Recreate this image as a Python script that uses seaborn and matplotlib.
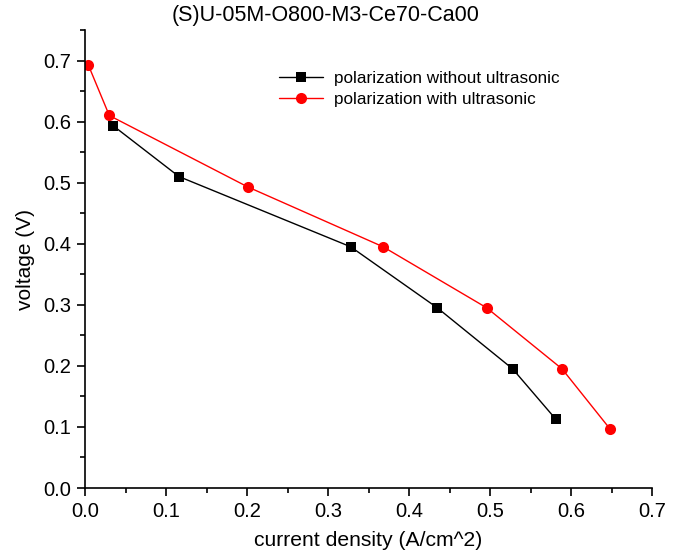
import matplotlib
matplotlib.use("Agg")
import matplotlib.pyplot as plt
import seaborn as sns
from matplotlib.ticker import MultipleLocator

# polarization data
cur_without = [0.035, 0.116, 0.328, 0.435, 0.528, 0.581]
volt_without = [0.593, 0.510, 0.395, 0.295, 0.195, 0.113]
cur_with = [0.004, 0.030, 0.201, 0.368, 0.496, 0.589, 0.648]
volt_with = [0.693, 0.610, 0.493, 0.395, 0.295, 0.195, 0.097]

sns.set_style("ticks")
plt.rcParams["font.family"] = ["Liberation Sans", "DejaVu Sans"]
plt.rcParams["text.color"] = "black"
plt.rcParams["axes.labelcolor"] = "black"
plt.rcParams["xtick.color"] = "black"
plt.rcParams["ytick.color"] = "black"
plt.rcParams["axes.edgecolor"] = "black"

fig = plt.figure(figsize=(6.8, 5.53), dpi=100)
ax = fig.add_axes([85 / 680, 65 / 553, 567 / 680, 458 / 553])

sns.lineplot(x=cur_without, y=volt_without, ax=ax, color="black", marker="s",
             markersize=7, markeredgewidth=0, linewidth=1, sort=False,
             label="polarization without ultrasonic")
sns.lineplot(x=cur_with, y=volt_with, ax=ax, color="red", marker="o",
             markersize=8, markeredgewidth=0, linewidth=1, sort=False,
             label="polarization with ultrasonic")

ax.set_xlim(0, 0.7)
ax.set_ylim(0, 0.75)
ax.xaxis.set_major_locator(MultipleLocator(0.1))
ax.xaxis.set_minor_locator(MultipleLocator(0.05))
ax.yaxis.set_major_locator(MultipleLocator(0.1))
ax.yaxis.set_minor_locator(MultipleLocator(0.05))
ax.set_yticks([0, 0.1, 0.2, 0.3, 0.4, 0.5, 0.6, 0.7])
ax.tick_params(which="major", length=6, width=1.2, labelsize=14.5,
               direction="out", pad=4)
ax.tick_params(which="minor", length=3.5, width=1.2, direction="out")
for s in ["left", "bottom"]:
    ax.spines[s].set_linewidth(1.2)
sns.despine(ax=ax)

ax.set_xlabel("current density (A/cm^2)", fontsize=15.2, labelpad=7)
ax.set_ylabel("voltage (V)", fontsize=15, labelpad=6)
fig.text(326 / 680, 1 - 16 / 553, "(S)U-05M-O800-M3-Ce70-Ca00",
         ha="center", va="center", fontsize=15.5)

ax.legend(loc="upper left", bbox_to_anchor=(0.315, 0.945), frameon=False,
          fontsize=12.3, handlelength=2.6, labelspacing=0.4, handletextpad=0.6)

fig.savefig("out.png", dpi=100)
